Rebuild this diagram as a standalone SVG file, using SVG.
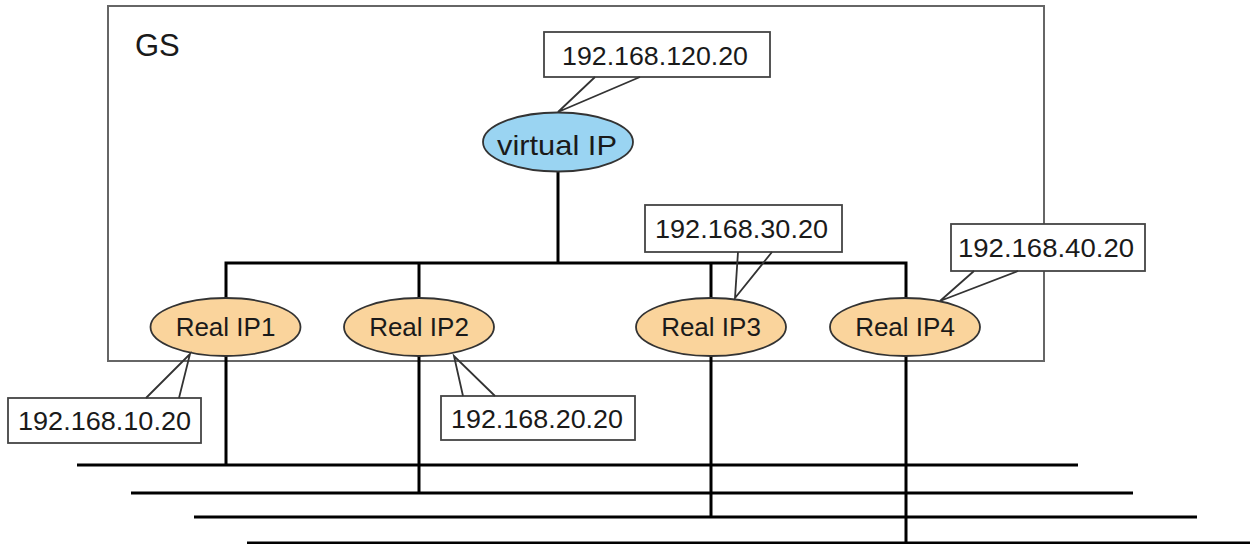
<svg xmlns="http://www.w3.org/2000/svg" width="1250" height="544" viewBox="0 0 1250 544">
<style>
text{font-family:"Liberation Sans",Arial,sans-serif;fill:#1a1a1a}
.lbl{font-size:26px}
.ip{font-size:26px;text-anchor:middle}
.real{fill:#fad49c;stroke:#333;stroke-width:1.8}
.virt{fill:#9ad4f2;stroke:#333;stroke-width:1.8}
.wire{stroke:#000;stroke-width:3;fill:none}
.cbox{fill:#fff;stroke:#444;stroke-width:1.8}
.tail{fill:none;stroke:#333;stroke-width:1.8}
</style>
<g id="gs">
<rect x="108" y="6" width="936" height="355" fill="#fff" stroke="#666" stroke-width="2"/>
<text x="135" y="56" style="font-size:31px">GS</text>
</g>
<g id="connectors">
<line class="wire" x1="558" y1="172" x2="558" y2="263"/>
<polyline class="wire" points="226,465 226,263 906,263 906,544"/>
<line class="wire" x1="419" y1="263" x2="419" y2="493"/>
<line class="wire" x1="711" y1="263" x2="711" y2="517"/>
<line class="wire" x1="77" y1="465" x2="1078" y2="465"/>
<line class="wire" x1="131" y1="493" x2="1133" y2="493"/>
<line class="wire" x1="194" y1="517" x2="1197" y2="517"/>
<line class="wire" x1="247" y1="543" x2="1252" y2="543"/>
</g>
<g id="virtual-ip">
<ellipse class="virt" cx="558" cy="142" rx="75" ry="29.5"/>
<text class="ip" x="557" y="155" style="font-size:28px" textLength="120" lengthAdjust="spacingAndGlyphs">virtual IP</text>
</g>
<g id="real-ip1">
<ellipse class="real" cx="225.5" cy="327" rx="75" ry="29"/>
<text class="ip" x="225.5" y="336">Real IP1</text>
</g>
<g id="real-ip2">
<ellipse class="real" cx="419" cy="327" rx="75" ry="29"/>
<text class="ip" x="419" y="336">Real IP2</text>
</g>
<g id="real-ip3">
<ellipse class="real" cx="711" cy="327" rx="75" ry="29"/>
<text class="ip" x="711" y="336">Real IP3</text>
</g>
<g id="real-ip4">
<ellipse class="real" cx="905" cy="327" rx="75" ry="29"/>
<text class="ip" x="905" y="336">Real IP4</text>
</g>
<g id="callout-120">
<rect class="cbox" x="544" y="32" width="226" height="45"/>
<polyline class="tail" points="595,77 558,112 640,77"/>
<text class="lbl" x="562" y="65" textLength="186" lengthAdjust="spacingAndGlyphs">192.168.120.20</text>
</g>
<g id="callout-30">
<rect class="cbox" x="645" y="205" width="197" height="47"/>
<polyline class="tail" points="738,252 735,298 772,252"/>
<text class="lbl" x="655" y="238" textLength="173" lengthAdjust="spacingAndGlyphs">192.168.30.20</text>
</g>
<g id="callout-40">
<rect class="cbox" x="951" y="224" width="194" height="47"/>
<polyline class="tail" points="974,271 940,301 1018,271"/>
<text class="lbl" x="958" y="257" textLength="176" lengthAdjust="spacingAndGlyphs">192.168.40.20</text>
</g>
<g id="callout-10">
<rect class="cbox" x="8" y="398" width="193" height="45"/>
<polyline class="tail" points="146,398 190,354 179,398"/>
<text class="lbl" x="18" y="430" textLength="173" lengthAdjust="spacingAndGlyphs">192.168.10.20</text>
</g>
<g id="callout-20">
<rect class="cbox" x="441" y="396" width="194" height="44"/>
<polyline class="tail" points="463,396 454,356 495,396"/>
<text class="lbl" x="451" y="428" textLength="172" lengthAdjust="spacingAndGlyphs">192.168.20.20</text>
</g>
</svg>
